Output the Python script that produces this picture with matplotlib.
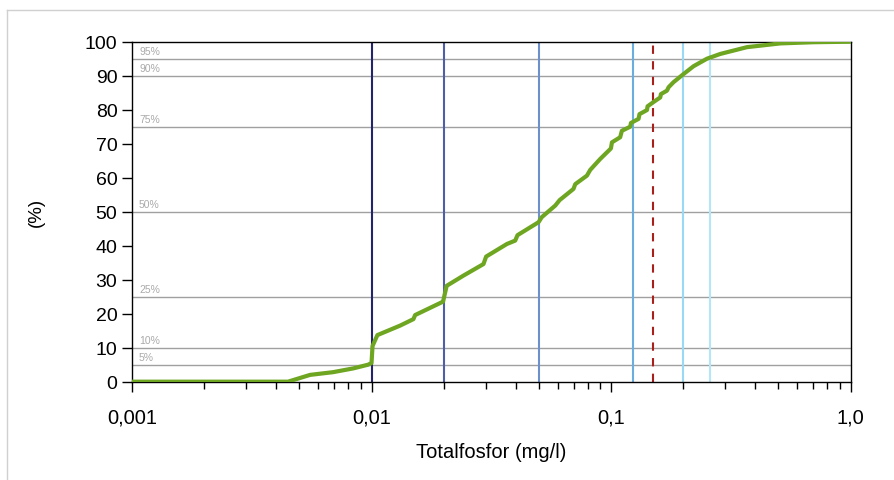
import matplotlib
matplotlib.use("Agg")
import matplotlib.pyplot as plt
from matplotlib.ticker import FixedLocator, LogLocator, NullFormatter
from matplotlib.lines import Line2D

plt.rcParams['font.family'] = ['Liberation Sans', 'DejaVu Sans']

# Cumulative distribution of total phosphorus concentrations
conc = [0.001, 0.00448, 0.00554, 0.00691, 0.00838, 0.00968, 0.0100, 0.0101,
        0.01058, 0.01317, 0.01496, 0.01521, 0.0197, 0.0199, 0.0206, 0.0242,
        0.02934, 0.0301, 0.03675, 0.0398, 0.0407, 0.0498, 0.0514, 0.0585,
        0.0610, 0.0697, 0.0709, 0.0793, 0.0819, 0.0901, 0.0999, 0.1009,
        0.1092, 0.1110, 0.1203, 0.1211, 0.1303, 0.1315, 0.1413, 0.1421,
        0.1529, 0.1605, 0.1616, 0.1712, 0.1739, 0.1824, 0.2009, 0.2212,
        0.2515, 0.2858, 0.3696, 0.509, 0.699, 1.0]
cum_pct = [0.0, 0.0, 2.0, 2.8, 3.9, 5.0, 5.5, 10.5,
           13.7, 16.5, 18.4, 19.6, 23.4, 23.6, 28.2, 31.2,
           34.6, 36.8, 40.5, 41.5, 43.1, 46.9, 48.4, 51.8,
           53.4, 56.7, 58.1, 60.6, 62.3, 65.5, 68.6, 70.4,
           71.9, 73.8, 75.0, 76.1, 77.3, 78.7, 79.9, 81.0,
           82.6, 83.6, 84.6, 85.6, 86.6, 88.1, 90.5, 92.8,
           95.0, 96.4, 98.4, 99.5, 99.85, 100.0]

# Percentile reference levels
percentiles = [5, 10, 25, 50, 75, 90, 95]
percentile_labels = ["5%", "10%", "25%", "50%", "75%", "90%", "95%"]

# Class boundaries (mg/l)
boundaries = [0.01, 0.02, 0.05, 0.123, 0.2, 0.26]
boundary_colors = ["#23236e", "#4f5ea8", "#6d8fcc", "#6aaee0", "#9ad8f5", "#b3e7f8"]
limit_value = 0.15

xtick_vals = [0.001, 0.01, 0.1, 1.0]
xtick_labels = ["0,001", "0,01", "0,1", "1,0"]
ytick_vals = list(range(0, 101, 10))

fig = plt.figure(figsize=(8.95, 4.81), dpi=100)
ax = fig.add_axes([0.1475, 0.2044, 0.9503 - 0.1475, 0.9112 - 0.2044])

# Light outer frame
fig.add_artist(Line2D([7 / 895, 7 / 895], [0, 1 - 11 / 481], transform=fig.transFigure,
                      color="#d0d0d0", lw=1.0))
fig.add_artist(Line2D([7 / 895, 1], [1 - 11 / 481, 1 - 11 / 481], transform=fig.transFigure,
                      color="#d0d0d0", lw=1.0))

ax.set_xscale("log")
ax.set_xlim(0.001, 1.0)
ax.set_ylim(0, 100)

for p, lab in zip(percentiles, percentile_labels):
    ax.axhline(p, color="#a0a0a0", lw=1.0, zorder=1)
    ax.text(0.00107, p + 0.8, lab, fontsize=7.5, color="#aaaaaa", ha="left", va="bottom", zorder=1)

for b, c in zip(boundaries, boundary_colors):
    ax.axvline(b, color=c, lw=1.5, zorder=2)

ax.axvline(limit_value, color="#a8201a", lw=1.5, ls=(0, (4, 3.5)), zorder=2)

ax.plot(conc, cum_pct, color="#6ea622", lw=3.0, zorder=3, solid_joinstyle="round")

ax.xaxis.set_major_locator(FixedLocator(xtick_vals))
ax.set_xticklabels(xtick_labels)
ax.xaxis.set_minor_locator(LogLocator(base=10, subs=range(2, 10)))
ax.xaxis.set_minor_formatter(NullFormatter())
ax.set_yticks(ytick_vals)

ax.tick_params(axis="x", which="major", direction="out", length=7.5, width=1.0,
               labelsize=14.5, pad=11)
ax.tick_params(axis="x", which="minor", direction="out", length=4.8, width=1.0)
ax.tick_params(axis="y", which="major", direction="out", length=7.5, width=1.0,
               labelsize=14, pad=3)

for s in ax.spines.values():
    s.set_color("black")
    s.set_linewidth(1.0)

ax.set_xlabel("Totalfosfor (mg/l)", fontsize=14.5, labelpad=11)
ax.set_ylabel("(%)", fontsize=13.5, labelpad=29)

fig.savefig("out.png", dpi=100)
